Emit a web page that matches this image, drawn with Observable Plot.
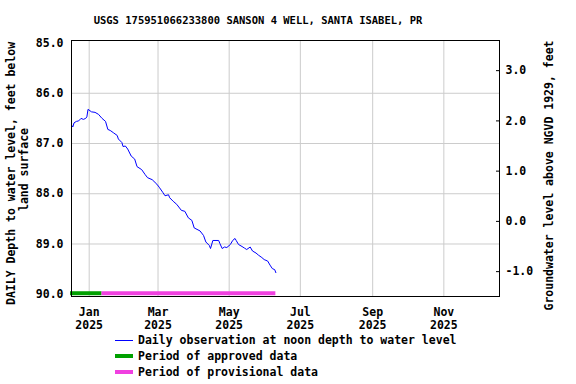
<!DOCTYPE html>
<html><head><meta charset="utf-8">
<script src="https://cdn.jsdelivr.net/npm/d3@7"></script>
<script src="https://cdn.jsdelivr.net/npm/@observablehq/plot@0.6"></script>
<style>
body{margin:0;background:#fff;font-family:"DejaVu Sans Mono",monospace;font-weight:bold;color:#000;}
#title{height:30px;width:516px;box-sizing:border-box;padding-top:12px;line-height:16px;font-size:10.5px;text-align:center;white-space:pre;}
#chart svg{display:block;}
#legend{position:relative;height:48px;width:576px;font-size:11.5px;}
.row{position:absolute;left:115px;height:16px;line-height:16px;display:flex;align-items:center;white-space:pre;}
.sw{width:18px;margin-right:5px;}
</style></head><body>
<div id="title">USGS 175951066233800 SANSON 4 WELL, SANTA ISABEL, PR</div>
<div id="chart"></div>
<div id="legend"></div>
<script>
const obsDates = ["2024-12-17","2024-12-18","2024-12-19","2024-12-21","2024-12-23","2024-12-25","2024-12-27","2024-12-29","2024-12-30","2024-12-31",
"2025-01-03","2025-01-06","2025-01-09","2025-01-12","2025-01-15","2025-01-17","2025-01-19","2025-01-22","2025-01-25","2025-01-26","2025-01-29","2025-01-30",
"2025-02-01","2025-02-03","2025-02-06","2025-02-09","2025-02-11","2025-02-15","2025-02-18","2025-02-20","2025-02-24","2025-02-28",
"2025-03-02","2025-03-05","2025-03-07","2025-03-10","2025-03-11","2025-03-14","2025-03-17","2025-03-21","2025-03-24","2025-03-27","2025-03-30",
"2025-04-01","2025-04-06","2025-04-09","2025-04-11","2025-04-14","2025-04-15","2025-04-17","2025-04-22","2025-04-23","2025-04-25","2025-04-27","2025-04-29",
"2025-05-02","2025-05-04","2025-05-06","2025-05-07","2025-05-09","2025-05-12","2025-05-14","2025-05-16","2025-05-19","2025-05-21","2025-05-24","2025-05-26","2025-05-29","2025-05-31",
"2025-06-03","2025-06-05","2025-06-07","2025-06-09","2025-06-10"];
const obsDepth = [86.64,86.67,86.59,86.56,86.55,86.50,86.52,86.50,86.47,86.32,
86.37,86.38,86.42,86.50,86.56,86.72,86.74,86.79,86.84,86.91,86.98,87.06,
87.05,87.11,87.25,87.31,87.46,87.52,87.62,87.68,87.72,87.81,
87.87,87.97,88.04,88.02,88.08,88.15,88.21,88.33,88.35,88.48,88.53,
88.68,88.74,88.83,88.96,89.03,89.09,88.93,88.93,88.99,89.09,89.06,89.07,
89.01,88.93,88.89,88.93,89.01,89.05,89.08,89.11,89.06,89.14,89.18,89.22,89.27,89.31,
89.34,89.42,89.49,89.51,89.57];

const periodNames = ["Period of approved data","Period of provisional data"];
const periodStart = ["2024-12-16","2025-01-12"];
const periodEnd = ["2025-01-12","2025-06-10"];
const periodColors = ["#00a000","#f040e0"];
const lineName = "Daily observation at noon depth to water level";
const lineColor = "#0000ff";

const leftTicks = [85,86,87,88,89,90];
const rightTicks = [3,2,1,0,-1];
const monthTicks = ["2025-01-01","2025-03-01","2025-05-01","2025-07-01","2025-09-01","2025-11-01"];
const datum = 88.55;
const xDomain = ["2024-12-16T20:00Z","2025-12-18T17:00Z"];
const yDomain = [84.95, 90.045];
const leftLabel1 = "DAILY Depth to water level, feet below";
const leftLabel2 = "land surface";
const rightLabel = "Groundwater level above NGVD 1929, feet";

const obs = obsDates.map((d,i)=>({date:new Date(d), depth:obsDepth[i]}));
const periods = periodNames.map((n,i)=>({name:n, x1:new Date(periodStart[i]), x2:new Date(periodEnd[i]), color:periodColors[i]}));
const mTicks = monthTicks.map(d=>new Date(d));
const fmt = d3.utcFormat("%b\n%Y");

const chart = Plot.plot({
  width: 576, height: 306,
  marginTop: 10, marginBottom: 40, marginLeft: 71, marginRight: 77,
  style: {fontFamily: "'DejaVu Sans Mono', monospace", fontSize: "11.5px", fontWeight: "bold", background: "#fff", color: "#000"},
  x: {type: "utc", domain: xDomain.map(d=>new Date(d))},
  y: {domain: yDomain, reverse: true},
  marks: [
    Plot.gridX(mTicks, {stroke: "#cccccc", strokeOpacity: 1}),
    Plot.gridY(leftTicks.slice(1, -1), {stroke: "#cccccc", strokeOpacity: 1}),
    Plot.ruleY(periods, {y: () => 90, x1: "x1", x2: "x2", stroke: "color", strokeWidth: 4, dy: -1}),
    Plot.line(obs, {x: "date", y: "depth", stroke: lineColor, strokeWidth: 1}),
    Plot.frame({stroke: "#000"}),
    Plot.axisX(mTicks, {tickSize: 0, tickPadding: 10, tickFormat: fmt, lineHeight: 1.13, label: null}),
    Plot.axisY(leftTicks, {anchor: "left", tickSize: 0, tickPadding: 8, tickFormat: d => d.toFixed(1), label: null}),
    Plot.axisY(rightTicks.map(e => datum - e), {anchor: "right", tickSize: -4, tickPadding: 10, tickFormat: d => (datum - d).toFixed(1), label: null}),
    Plot.text([leftLabel1], {frameAnchor: "left", textAnchor: "middle", dx: -60, dy: 5, rotate: -90, text: d => d}),
    Plot.text([leftLabel2], {frameAnchor: "left", textAnchor: "middle", dx: -47, dy: 1, rotate: -90, text: d => d}),
    Plot.text([rightLabel], {frameAnchor: "right", textAnchor: "middle", dx: 50, dy: 7, rotate: -90, text: d => d})
  ]
});
document.getElementById("chart").appendChild(chart);

const legend = document.getElementById("legend");
const items = [{name: lineName, color: lineColor, h: 1}].concat(periods.map(p => ({name: p.name, color: p.color, h: 4})));
items.forEach((it, i) => {
  const row = document.createElement("div");
  row.className = "row";
  row.style.top = (-4 + i * 16) + "px";
  const sw = document.createElement("span");
  sw.className = "sw";
  sw.style.height = it.h + "px";
  sw.style.background = it.color;
  const tx = document.createElement("span");
  tx.textContent = it.name;
  row.appendChild(sw); row.appendChild(tx);
  legend.appendChild(row);
});
</script>
</body></html>
